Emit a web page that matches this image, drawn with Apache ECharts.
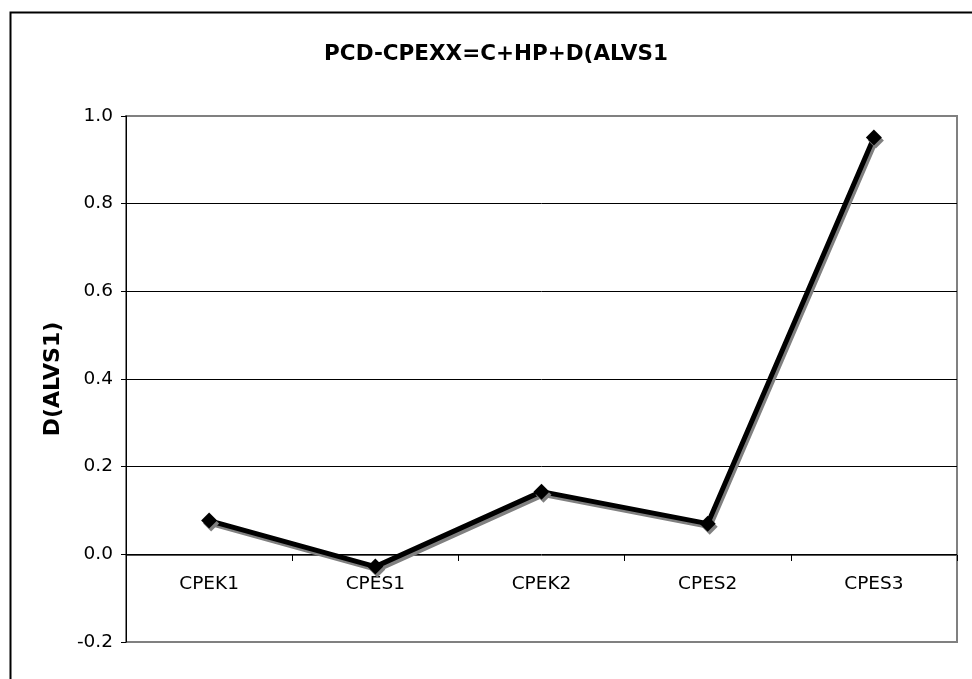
<!DOCTYPE html>
<html>
<head>
<meta charset="utf-8">
<script src="https://cdn.jsdelivr.net/npm/echarts@6/dist/echarts.min.js"></script>
<style>html,body{margin:0;padding:0;background:#fff}#c{width:972px;height:679px}</style>
</head>
<body>
<div id="c"></div>
<script>
const titleText = 'PCD-CPEXX=C+HP+D(ALVS1';
const yAxisTitle = 'D(ALVS1)';
const categories = ['CPEK1', 'CPES1', 'CPEK2', 'CPES2', 'CPES3'];
const values = [0.077, -0.028, 0.143, 0.070, 0.951];
const yMin = -0.2, yMax = 1.0, yStep = 0.2;

const font = "'DejaVu Sans', Verdana, sans-serif";
const chart = echarts.init(document.getElementById('c'), null, {renderer: 'canvas'});
chart.setOption({
  backgroundColor: '#fff',
  animation: false,
  graphic: [{
    type: 'rect', left: 8, top: 10, shape: {width: 1000, height: 1000},
    style: {fill: 'none', stroke: '#000', lineWidth: 2}, z: 0
  }],
  title: {
    text: titleText, left: 496, top: 43, textAlign: 'center', padding: 0,
    textStyle: {fontFamily: font, fontWeight: 'bold', fontSize: 21.5, color: '#000'}
  },
  grid: {left: 126, right: 15, top: 116, bottom: 37, show: true,
    borderColor: '#808080', borderWidth: 2, backgroundColor: 'transparent'},
  xAxis: {
    type: 'category', data: categories, boundaryGap: true, offset: -87,
    axisLine: {onZero: false, lineStyle: {color: '#555', width: 1}},
    axisTick: {show: true, alignWithLabel: false, length: 6, inside: false, lineStyle: {color: '#000'}},
    axisLabel: {fontFamily: font, fontSize: 18.5, color: '#000', margin: 20},
    splitLine: {show: false}
  },
  yAxis: {
    type: 'value', min: yMin, max: yMax, interval: yStep,
    name: yAxisTitle, nameLocation: 'middle', nameGap: 62, nameRotate: 90,
    nameTextStyle: {fontFamily: font, fontWeight: 'bold', fontSize: 22, color: '#000'},
    axisLine: {show: true, lineStyle: {color: '#000', width: 1}},
    axisTick: {show: true, length: 5, lineStyle: {color: '#000'}},
    axisLabel: {fontFamily: font, fontSize: 18.5, color: '#000', margin: 13,
      formatter: v => v.toFixed(1)},
    splitLine: {show: true, lineStyle: {color: ['#808080','#000','#000','#000','#000','#000','#808080'], width: 1}}
  },
  series: [{
    type: 'line', data: values,
    symbol: 'diamond', symbolSize: 16,
    lineStyle: {color: '#000', width: 5, shadowColor: '#808080', shadowOffsetX: 2, shadowOffsetY: 3, shadowBlur: 0},
    itemStyle: {color: '#000', shadowColor: '#808080', shadowOffsetX: 2, shadowOffsetY: 3, shadowBlur: 0}
  }]
});
</script>
</body>
</html>
